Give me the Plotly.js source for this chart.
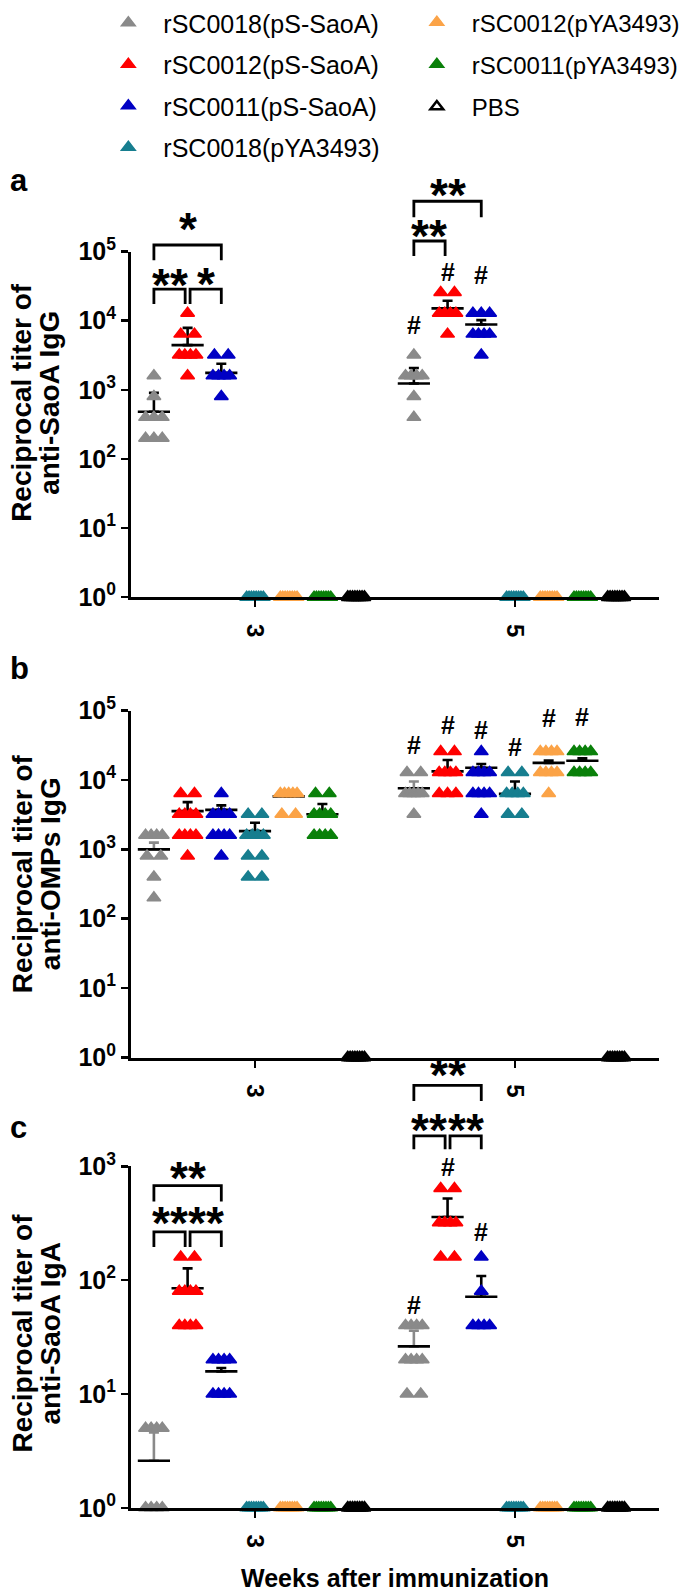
<!DOCTYPE html>
<html><head><meta charset="utf-8">
<script src="https://cdn.plot.ly/plotly-3.0.1.min.js"></script>
<style>body{margin:0;background:#fff}</style>
</head><body><div id="chart" style="width:685px;height:1594px"></div>
<script>
// ---------- data ----------
const groupNames = ['rSC0018(pS-SaoA)','rSC0012(pS-SaoA)','rSC0011(pS-SaoA)','rSC0018(pYA3493)','rSC0012(pYA3493)','rSC0011(pYA3493)','PBS'];
const groupColors = ['#8a8a8a','#ff0000','#0000c4','#177e8f','#fba347','#0a800a','#000000'];
const weeks = [3, 5];
const weekLabels = ['3', '5'];

// panel a: anti-SaoA IgG (one list per group)
const saoaIgG_wk3 = [
  [1600, 800, 400, 400, 400, 200, 200, 200],
  [12800, 6400, 6400, 3200, 3200, 3200, 3200, 1600],
  [3200, 3200, 1600, 1600, 1600, 1600, 800],
  [1, 1, 1, 1, 1, 1, 1, 1],
  [1, 1, 1, 1, 1, 1, 1, 1],
  [1, 1, 1, 1, 1, 1, 1, 1],
  [1, 1, 1, 1, 1, 1, 1, 1]
];
const saoaIgG_wk5 = [
  [3200, 1600, 1600, 1600, 1600, 800, 400],
  [25600, 25600, 12800, 12800, 12800, 12800, 6400],
  [12800, 12800, 12800, 6400, 6400, 6400, 6400, 3200],
  [1, 1, 1, 1, 1, 1, 1, 1],
  [1, 1, 1, 1, 1, 1, 1, 1],
  [1, 1, 1, 1, 1, 1, 1, 1],
  [1, 1, 1, 1, 1, 1, 1, 1]
];
const saoaIgG_mean = [[482, 4440, 1757, 1, 1, 1, 1], [1233, 15100, 8820, 1, 1, 1, 1]];
const saoaIgG_top  = [[905, 7880, 2390, 1, 1, 1, 1], [2075, 19500, 10200, 1, 1, 1, 1]];

// panel b: anti-OMPs IgG
const ompsIgG_wk3 = [
  [1600, 1600, 1600, 1600, 800, 800, 400, 200],
  [6400, 6400, 3200, 3200, 3200, 3200, 1600, 1600, 1600, 1600, 800],
  [6400, 3200, 3200, 3200, 3200, 1600, 1600, 1600, 1600, 800],
  [3200, 3200, 1600, 1600, 1600, 1600, 800, 800, 400, 400],
  [6400, 6400, 6400, 6400, 6400, 3200, 3200],
  [6400, 6400, 3200, 3200, 3200, 3200, 1600, 1600, 1600, 1600],
  [1, 1, 1, 1, 1, 1, 1, 1]
];
const ompsIgG_wk5 = [
  [12800, 12800, 6400, 6400, 6400, 6400, 6400, 3200],
  [25600, 25600, 12800, 12800, 12800, 12800, 6400, 6400, 6400],
  [25600, 12800, 12800, 12800, 12800, 6400, 6400, 6400, 6400, 3200],
  [12800, 12800, 6400, 6400, 6400, 6400, 3200, 3200],
  [25600, 25600, 25600, 25600, 12800, 12800, 12800, 12800, 6400],
  [25600, 25600, 25600, 25600, 12800, 12800, 12800, 12800],
  [1, 1, 1, 1, 1, 1, 1, 1]
];
const ompsIgG_mean = [[1000, 3550, 3700, 1830, 5800, 3200, 1], [7600, 13300, 15000, 6300, 17600, 18900, 1]];
const ompsIgG_top  = [[1250, 4790, 4300, 2420, 6400, 4500, 1], [9500, 19400, 17000, 9500, 19000, 20500, 1]];

// panel c: anti-SaoA IgA
const saoaIgA_wk3 = [
  [5, 5, 5, 5, 1, 1, 1, 1],
  [160, 160, 80, 80, 80, 80, 40, 40, 40, 40],
  [20, 20, 20, 20, 10, 10, 10, 10],
  [1, 1, 1, 1, 1, 1, 1, 1],
  [1, 1, 1, 1, 1, 1, 1, 1],
  [1, 1, 1, 1, 1, 1, 1, 1],
  [1, 1, 1, 1, 1, 1, 1, 1]
];
const saoaIgA_wk5 = [
  [40, 40, 40, 40, 20, 20, 20, 20, 10, 10],
  [640, 640, 320, 320, 320, 320, 160, 160],
  [160, 80, 40, 40, 40, 40],
  [1, 1, 1, 1, 1, 1, 1, 1],
  [1, 1, 1, 1, 1, 1, 1, 1],
  [1, 1, 1, 1, 1, 1, 1, 1],
  [1, 1, 1, 1, 1, 1, 1, 1]
];
const saoaIgA_mean = [[2.59, 85, 15.8, 1, 1, 1, 1], [26.2, 359, 71.6, 1, 1, 1, 1]];
const saoaIgA_top  = [[4.6, 127, 16.9, 1, 1, 1, 1], [36, 522, 108.8, 1, 1, 1, 1]];

// significance: [week index, group1, group2, label]
const sigA = [[0, 0, 1, '**'], [0, 1, 2, '*'], [0, 0, 2, '*'], [1, 0, 1, '**'], [1, 0, 2, '**']];
const sigC = [[0, 0, 1, '**'], [0, 1, 2, '**'], [0, 0, 2, '**'], [1, 0, 1, '**'], [1, 1, 2, '**'], [1, 0, 2, '**']];
// '#' marks (vs week 3): [week index, group]
const hashA = [[1, 0], [1, 1], [1, 2]];
const hashB = [[1, 0], [1, 1], [1, 2], [1, 3], [1, 4], [1, 5]];
const hashC = [[1, 0], [1, 1], [1, 2]];

// ---------- layout geometry (pixels) ----------
const W = 685, H = 1594;
const FONT = 'Liberation Sans, Arial, Helvetica, sans-serif';
const xDomPx = [133.3, 671];
const xRange = [2.0457, 6.11];
const pxPerWeek = (xDomPx[1] - xDomPx[0]) / (xRange[1] - xRange[0]);
const slot = 34.3 / pxPerWeek;
const px2x = p => p / W;
const px2y = p => 1 - p / H;

const panels = [
  {vals: [saoaIgG_wk3, saoaIgG_wk5], mean: saoaIgG_mean, top: saoaIgG_top, yDomPx: [244, 591.5], yMax: 5,
   title: ['Reciprocal titer of', 'anti-SaoA IgG'], titlePx: 396, letter: 'a', letterPx: 172, grayWhisker: '#000000',
   sig: sigA, hash: hashA,
   // bracket levels (log10 units): [top, legBottom, labelCenter] per sig entry
   brk: [[4.458, 4.242, 4.60], [4.458, 4.242, 4.62], [5.096, 4.875, 5.41], [5.154, 4.938, 5.32], [5.729, 5.499, 5.90]],
   hashLvl: [3.935, 4.698, 4.655]},
  {vals: [ompsIgG_wk3, ompsIgG_wk5], mean: ompsIgG_mean, top: ompsIgG_top, yDomPx: [705.5, 1054.5], yMax: 5,
   title: ['Reciprocal titer of', 'anti-OMPs IgG'], titlePx: 870, letter: 'b', letterPx: 663, grayWhisker: '#8a8a8a',
   sig: [], hash: hashB, brk: [],
   hashLvl: [4.506, 4.792, 4.721, 4.481, 4.893, 4.911]},
  {vals: [saoaIgA_wk3, saoaIgA_wk5], mean: saoaIgA_mean, top: saoaIgA_top, yDomPx: [1164, 1507.3], yMax: 3,
   title: ['Reciprocal titer of', 'anti-SaoA IgA'], titlePx: 1332, letter: 'c', letterPx: 1125, grayWhisker: '#8a8a8a',
   sig: sigC, hash: hashC,
   brk: [[2.424, 2.293, 2.555], [2.424, 2.293, 2.555], [2.832, 2.692, 2.95], [3.269, 3.152, 3.375], [3.269, 3.152, 3.375], [3.712, 3.575, 3.855]],
   hashLvl: [1.783, 2.992, 2.424]}
];

function groupX(wi, g) { return weeks[wi] + (g - 3) * slot; }

// simple beeswarm: equal values spread side by side
function swarm(vals, cx) {
  const counts = {}, seen = {};
  vals.forEach(v => counts[v] = (counts[v] || 0) + 1);
  return vals.map(v => {
    const n = counts[v];
    const i = seen[v] = (seen[v] === undefined ? 0 : seen[v] + 1);
    const sp = n > 1 ? Math.min(14, 17 / (n - 1)) : 0;
    return cx + ((i - (n - 1) / 2) * sp) / pxPerWeek;
  });
}

const traces = [];
const shapes = [];
const annotations = [];
const legBase = {yanchor: 'top', xanchor: 'left', itemwidth: 60,
                 bgcolor: 'rgba(0,0,0,0)', borderwidth: 0};
const layout = {
  width: W, height: H, margin: {l: 0, r: 0, t: 0, b: 0},
  paper_bgcolor: '#fff', plot_bgcolor: 'rgba(0,0,0,0)',
  font: {family: FONT, color: '#000'},
  showlegend: true,
  legend: Object.assign({x: px2x(95), y: px2y(-9), font: {size: 25, family: FONT}, tracegroupgap: 6}, legBase),
  legend2: Object.assign({x: px2x(409), y: px2y(-9), font: {size: 24, family: FONT}, tracegroupgap: 8}, legBase),
  shapes, annotations
};

panels.forEach((P, pi) => {
  const sfx = pi === 0 ? '' : String(pi + 1);
  const xa = 'x' + sfx, ya = 'y' + sfx;
  const dom = [px2y(P.yDomPx[1]), px2y(P.yDomPx[0])];
  const log2paper = l => dom[0] + (l / P.yMax) * (dom[1] - dom[0]);
  layout['xaxis' + sfx] = {
    domain: [px2x(xDomPx[0]), px2x(xDomPx[1])], range: xRange, anchor: ya,
    tickvals: weeks, ticktext: weekLabels, tickangle: 90,
    ticks: 'outside', ticklen: 7, tickwidth: 2.5, tickcolor: '#000', ticklabelstandoff: 12,
    showline: true, linewidth: 3, linecolor: '#000', showgrid: false, zeroline: false,
    tickfont: {size: 24, family: FONT, weight: 'bold'}, automargin: false, fixedrange: true
  };
  const tv = [], tt = [];
  for (let e = 0; e <= P.yMax; e++) { tv.push(Math.pow(10, e)); tt.push('10<sup>' + e + '</sup>'); }
  layout['yaxis' + sfx] = {
    domain: dom, type: 'log', range: [0, P.yMax], anchor: xa,
    tickvals: tv, ticktext: tt,
    ticks: 'outside', ticklen: 7, tickwidth: 2.5, tickcolor: '#000',
    showline: true, linewidth: 3, linecolor: '#000', showgrid: false, zeroline: false,
    tickfont: {size: 25, family: FONT, weight: 'bold'}, automargin: false, fixedrange: true
  };
  // y title (two lines)
  [22.5, 51].forEach((xp, li) => annotations.push({xref: 'paper', yref: 'paper', x: px2x(xp), y: px2y(P.titlePx),
    xanchor: 'center', yanchor: 'middle', textangle: -90, text: P.title[li], showarrow: false,
    font: {size: 28, family: FONT, weight: 'bold'}}));

  // mean + SEM (drawn under the points)
  for (let g = 0; g < 7; g++) {
    const xs = [], ys = [], up = [];
    for (let wi = 0; wi < 2; wi++) {
      if (P.mean[wi][g] > 1) {
        xs.push(groupX(wi, g)); ys.push(P.mean[wi][g]); up.push(P.top[wi][g] - P.mean[wi][g]);
      }
    }
    if (!xs.length) continue;
    traces.push({
      type: 'scatter', mode: 'markers', xaxis: xa, yaxis: ya, x: xs, y: ys, showlegend: false, hoverinfo: 'skip',
      cliponaxis: false,
      marker: {symbol: 'line-ew', size: 23, line: {width: 2.6, color: '#000'}},
      error_y: {type: 'data', symmetric: false, array: up, arrayminus: up.map(() => 0),
                color: g === 0 ? P.grayWhisker : '#000', thickness: 2.6, width: 5}
    });
  }
  // points
  for (let g = 0; g < 7; g++) {
    const xs = [], ys = [];
    for (let wi = 0; wi < 2; wi++) {
      const v = P.vals[wi][g];
      swarm(v, groupX(wi, g)).forEach((x, k) => { xs.push(x); ys.push(v[k]); });
    }
    const isPBS = g === 6;
    traces.push({
      type: 'scatter', mode: 'markers', xaxis: xa, yaxis: ya, x: xs, y: ys,
      name: groupNames[g], legendgroup: 'g' + g, showlegend: pi === 0,
      legend: g < 4 ? 'legend' : 'legend2',
      legendrank: g, cliponaxis: false, hoverinfo: 'skip',
      marker: isPBS ? {symbol: 'triangle-up-open', size: 11, color: '#000', line: {width: 2.6, color: '#000'}}
                    : {symbol: 'triangle-up', size: 12, color: groupColors[g], line: {width: 1.5, color: groupColors[g]}}
    });
  }
  // brackets + stars
  P.sig.forEach((s, k) => {
    const [wi, g1, g2, lab] = s;
    const [topL, legL, labL] = P.brk[k];
    let x1 = groupX(wi, g1), x2 = groupX(wi, g2);
    const adj = 2.5 / pxPerWeek;
    if (g2 - g1 === 1) { if (g1 === 1) x1 += adj; else x2 -= adj; }
    const yt = log2paper(topL), yl = log2paper(legL);
    shapes.push({type: 'path', xref: xa, yref: 'paper',
      path: `M${x1},${yl} L${x1},${yt} L${x2},${yt} L${x2},${yl}`,
      line: {color: '#000', width: 2.8}});
    annotations.push({xref: xa, yref: 'paper', x: (x1 + x2) / 2, y: log2paper(labL), yanchor: 'middle',
      text: lab, showarrow: false, font: {size: 46, family: FONT, weight: 'bold'}, yshift: -6});
  });
  P.hash.forEach((h, k) => {
    annotations.push({xref: xa, yref: 'paper', x: groupX(h[0], h[1]), y: log2paper(P.hashLvl[k]), yanchor: 'middle',
      text: '#', showarrow: false, font: {size: 25, family: FONT, weight: 'bold'}});
  });
  annotations.push({xref: 'paper', yref: 'paper', x: px2x(8), y: px2y(P.letterPx), xanchor: 'left', yanchor: 'middle',
    text: P.letter, showarrow: false, font: {size: 31, family: FONT, weight: 'bold'}});
});

// x title
annotations.push({xref: 'paper', yref: 'paper', x: px2x((xDomPx[0] + xDomPx[1]) / 2), y: px2y(1578),
  xanchor: 'center', yanchor: 'middle', text: 'Weeks after immunization', showarrow: false,
  font: {size: 25, family: FONT, weight: 'bold'}});

Plotly.newPlot('chart', traces, layout, {staticPlot: true});
</script>
</body></html>
